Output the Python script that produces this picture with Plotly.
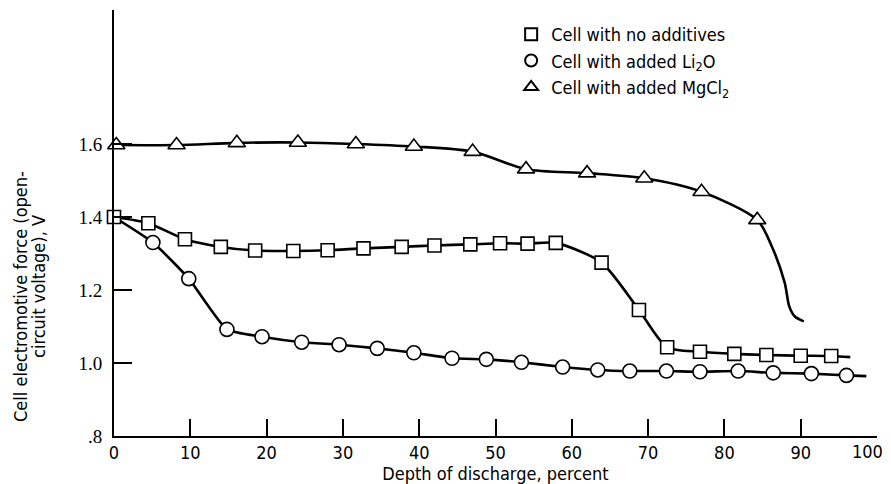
import plotly.graph_objects as go

# ---- data ----
x_ticks = [0, 10, 20, 30, 40, 50, 60, 70, 80, 90, 100]
x_ticklabels = ["0", "10", "20", "30", "40", "50", "60", "70", "80", "90", "100"]
y_ticks = [0.8, 1.0, 1.2, 1.4, 1.6]
y_ticktext = [".8", "1.0", "1.2", "1.4", "1.6"]

sq_x = [0, 4.5, 9.3, 14, 18.5, 23.5, 28, 32.7, 37.7, 42, 46.7, 50.6, 54.2, 57.9,
        63.9, 68.8, 72.5, 76.8, 81.3, 85.5, 90, 94]
sq_y = [1.40, 1.383, 1.339, 1.318, 1.308, 1.307, 1.309, 1.314, 1.318, 1.322, 1.325,
        1.328, 1.327, 1.329, 1.275, 1.145, 1.043, 1.031, 1.025, 1.022, 1.020, 1.019]
sq_tail_x = [96.5]
sq_tail_y = [1.016]

ci_head_x = [0]
ci_head_y = [1.40]
ci_x = [5.1, 9.8, 14.8, 19.4, 24.6, 29.5, 34.5, 39.3, 44.3, 48.8, 53.4, 58.8,
        63.4, 67.6, 72.4, 76.8, 81.8, 86.4, 91.4, 96]
ci_y = [1.330, 1.231, 1.092, 1.072, 1.057, 1.050, 1.040, 1.028, 1.013, 1.010, 1.002,
        0.989, 0.981, 0.978, 0.978, 0.976, 0.978, 0.973, 0.971, 0.966]
ci_tail_x = [98.6]
ci_tail_y = [0.964]

tr_x = [0.3, 8.2, 16.1, 24.1, 31.7, 39.3, 47, 54, 62, 69.5, 77, 84.3]
tr_y = [1.597, 1.597, 1.603, 1.604, 1.600, 1.593, 1.579, 1.531, 1.520, 1.506, 1.469, 1.392]
tr_tail_x = [86.2, 87.9, 88.5, 89.2, 90.4]
tr_tail_y = [1.32, 1.22, 1.155, 1.128, 1.114]

names = ["Cell with no additives",
         "Cell with added Li<sub>2</sub>O",
         "Cell with added MgCl<sub>2</sub>"]

FONT = "DejaVu Sans Condensed, DejaVu Sans, sans-serif"

fig = go.Figure()

# curves (drawn first, behind markers)
curves = [
    (sq_x + sq_tail_x, sq_y + sq_tail_y, 0.7),
    (ci_head_x + ci_x + ci_tail_x, ci_head_y + ci_y + ci_tail_y, 0.5),
    (tr_x + tr_tail_x, tr_y + tr_tail_y, 0.8),
]
for cx, cy, sm in curves:
    fig.add_trace(go.Scatter(
        x=cx, y=cy, mode="lines", showlegend=False, hoverinfo="skip",
        line=dict(color="black", width=2.6, shape="spline", smoothing=sm),
        cliponaxis=False))

markers = [
    (sq_x, sq_y, "square", 13),
    (ci_x, ci_y, "circle", 14),
    (tr_x, tr_y, "triangle-up", 15),
]
for (mx, my, sym, sz), nm in zip(markers, names):
    fig.add_trace(go.Scatter(
        x=mx, y=my, mode="markers", name=nm,
        marker=dict(symbol=sym, size=sz, color="white",
                    line=dict(color="black", width=1.6)),
        cliponaxis=False))

# the last x tick label sits at the window edge: draw it right-aligned instead
tick_text = x_ticklabels[:-1] + [""]

# the page body has an 8px margin, so the figure is 8px smaller than the window
fig.update_layout(
    width=883, height=476,
    margin=dict(l=106, r=14, t=2, b=48),
    paper_bgcolor="white", plot_bgcolor="white",
    font=dict(family=FONT, size=18, color="black"),
    showlegend=True,
    legend=dict(x=0.5205, y=0.986, xanchor="left", yanchor="top",
                bgcolor="rgba(0,0,0,0)", tracegroupgap=0,
                font=dict(family=FONT, size=18, color="black"),
                itemsizing="constant"),
    xaxis=dict(range=[0, 100], tickvals=x_ticks, ticktext=tick_text,
               ticks="inside", ticklen=17,
               tickwidth=1.5, tickcolor="black", showline=True, linecolor="black",
               linewidth=1.5, showgrid=False, zeroline=False, automargin=False,
               ticklabeloverflow="allow", ticklabelstandoff=0,
               tickfont=dict(family=FONT, size=18),
               title=dict(text="Depth of discharge, percent", standoff=0,
                          font=dict(family=FONT, size=18))),
    yaxis=dict(range=[0.8, 1.967], tickvals=y_ticks, ticktext=y_ticktext,
               ticks="inside", ticklen=18, tickwidth=1.5, tickcolor="black",
               showline=True, linecolor="black", linewidth=2, showgrid=False,
               zeroline=False, ticklabelstandoff=6, automargin=False,
               ticklabeloverflow="allow",
               tickfont=dict(family="Liberation Serif, serif", size=19)),
)

fig.add_annotation(text=x_ticklabels[-1], x=x_ticks[-1], xref="x", y=0, yref="paper",
                   xanchor="right", yanchor="top", xshift=8, yshift=-3,
                   showarrow=False, font=dict(family=FONT, size=18))

# y-axis title (two lines)
fig.add_annotation(text="Cell electromotive force (open-", xref="paper", yref="paper",
                   x=(20 - 114) / 763, y=(436 - 297) / 426, textangle=-90,
                   showarrow=False, xanchor="center", yanchor="middle",
                   font=dict(family=FONT, size=18))
fig.add_annotation(text="circuit voltage), V", xref="paper", yref="paper",
                   x=(38 - 114) / 763, y=(436 - 287) / 426, textangle=-90,
                   showarrow=False, xanchor="center", yanchor="middle",
                   font=dict(family=FONT, size=18))

fig.write_html("out.html")
